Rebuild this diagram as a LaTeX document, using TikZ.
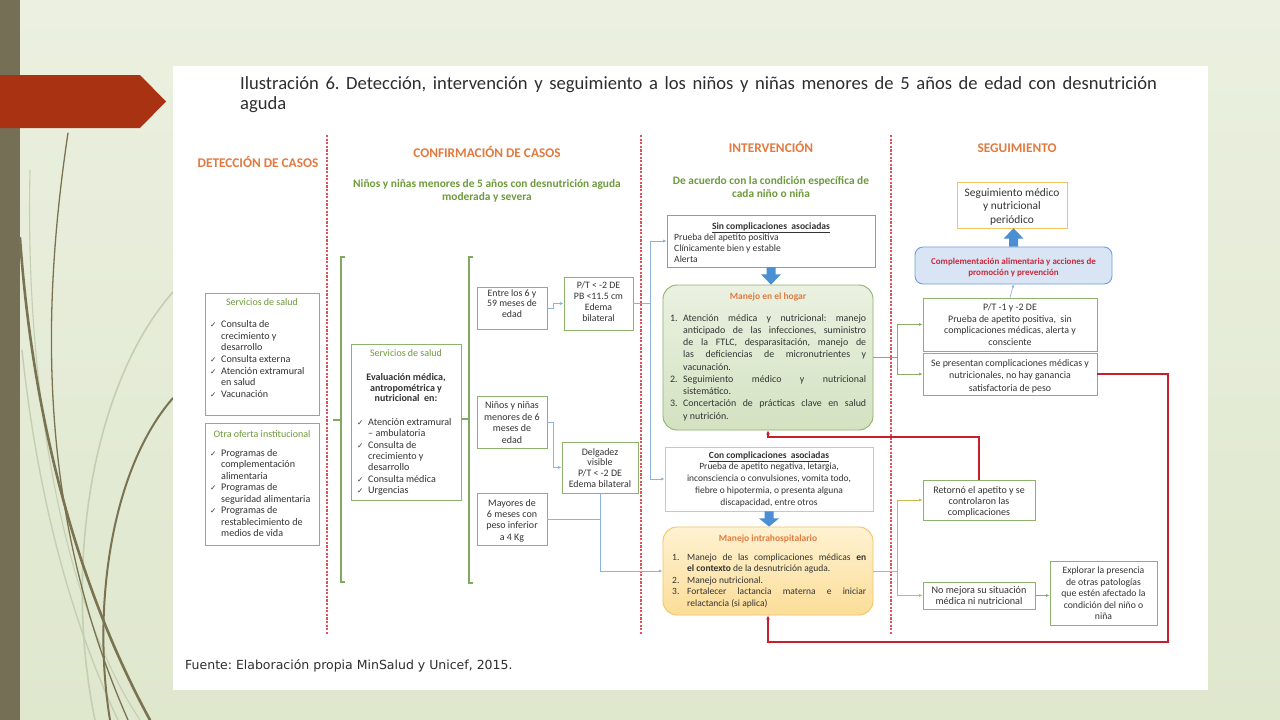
\documentclass[tikz,border=0pt]{standalone}
\usepackage{fontspec}
\setmainfont{Carlito}
\newfontfamily\symfont{DejaVu Sans}
\newfontfamily\footfont{DejaVu Sans}
\usetikzlibrary{arrows.meta,calc,fit}
\frenchspacing

\definecolor{bggreen}{HTML}{DFE7CD}
\definecolor{bglight}{HTML}{EBF0E0}
\definecolor{barbrown}{HTML}{756F56}
\definecolor{rust}{HTML}{A83212}
\definecolor{curvedark}{HTML}{7A7352}
\definecolor{curvepale}{HTML}{C6CEB2}
\definecolor{sepred}{HTML}{E3505C}
\definecolor{hdrorange}{HTML}{E27A3F}
\definecolor{subgreen}{HTML}{6E9A3C}
\definecolor{boxgreen}{HTML}{8DB26B}
\definecolor{brgreen}{HTML}{82A962}
\definecolor{boxyellow}{HTML}{F3C462}
\definecolor{connblue}{HTML}{8CB3E0}
\definecolor{blockblue}{HTML}{4A8ED3}
\definecolor{hogartop}{HTML}{EAF1E1}
\definecolor{hogarbot}{HTML}{D3E2C1}
\definecolor{intratop}{HTML}{FEF2D2}
\definecolor{intrabot}{HTML}{FCDD98}
\definecolor{compfill}{HTML}{D9E5F4}
\definecolor{compdraw}{HTML}{6F9FD6}
\definecolor{redline}{HTML}{C81E2E}
\definecolor{oliveline}{HTML}{C9B94E}
\definecolor{greenline}{HTML}{8AAE66}
\definecolor{txtgray}{HTML}{333333}
\definecolor{compred}{HTML}{C8283A}
\definecolor{titlegray}{HTML}{2E2E2E}

\newcommand\fsz[2]{\fontsize{#1}{#2}\selectfont}
\newcommand\boxfont{\fsz{10}{11.6}}
\newcommand\ck{\makebox[11pt][l]{\symfont\fontsize{7.5}{7.5}\selectfont ✓}}
\newcommand\jl[2]{\makebox[#1][s]{#2}}
\newcommand\ctext[1]{\begin{tabular}[t]{@{}c@{}}#1\end{tabular}}
\newcommand\ltext[1]{\begin{tabular}[t]{@{}l@{}}#1\end{tabular}}
\newcommand\cklist[1]{\begin{tabular}[t]{@{}l@{}l@{}}#1\end{tabular}}
\newcommand\downblock[2]{\fill[blockblue] ($(#1)+(-4.5,0)$) -- ($(#1)+(4.5,0)$) -- ($(#1)+(4.5,7)$) -- ($(#1)+(10,7)$) -- (#1 |- #2) -- ($(#1)+(-10,7)$) -- ($(#1)+(-4.5,7)$) -- cycle;}

\tikzset{
  txt/.style={inner sep=0pt, text=txtgray, font=\boxfont},
  gbox/.style={draw=boxgreen, line width=0.8pt, fill=white, inner sep=0pt},
  ybox/.style={draw=boxyellow, line width=0.8pt, fill=white, inner sep=0pt},
  hdr/.style={inner sep=0pt, text=hdrorange, font=\fsz{13.3}{15}\bfseries},
  subhdr/.style={inner sep=0pt, text=subgreen, font=\fsz{11.4}{13}\bfseries},
  sepline/.style={draw=sepred, line width=1.3pt, dash pattern=on 2.2pt off 1.4pt},
  bracket/.style={draw=brgreen, line width=1.3pt},
  bconn/.style={draw=connblue, line width=0.7pt},
  barr/.style={bconn, -{Latex[length=3.5pt,width=3pt]}},
  gconn/.style={draw=greenline, line width=0.7pt},
  garr/.style={gconn, -{Latex[length=3.5pt,width=3pt]}},
  oconn/.style={draw=oliveline, line width=0.7pt},
  oarr/.style={oconn, -{Latex[length=3.5pt,width=3pt]}},
  rarr/.style={draw=redline, line width=1.6pt, -{Latex[length=4pt,width=4pt]}},
  dcurve/.style={draw=curvedark, line cap=round},
  pcurve/.style={draw=curvepale, line cap=round},
}

\begin{document}
\begin{tikzpicture}[x=1pt,y=-1pt]
\useasboundingbox (0,0) rectangle (1280,720);
% slide background
\shade[top color=bglight, bottom color=bggreen] (0,0) rectangle (1280,720);
\fill[barbrown] (0,0) rectangle (20,720);
% decorative curves
\draw[pcurve, line width=1.6pt] (173,292) .. controls (95,380) and (62,560) .. (95,720);
\draw[pcurve, line width=1.4pt] (22,350) .. controls (40,520) and (80,640) .. (118,720);
\draw[pcurve, line width=1.1pt] (30,170) .. controls (25,380) and (60,600) .. (140,720);
\draw[dcurve, line width=1.3pt] (68,133) .. controls (40,320) and (40,520) .. (128,720);
\draw[dcurve, line width=2.6pt] (20,238) .. controls (35,450) and (90,610) .. (150,720);
\draw[dcurve, line width=2pt] (173,398) .. controls (110,470) and (92,610) .. (110,720);
\fill[rust] (0,75) -- (140,75) -- (166,101.5) -- (140,128) -- (0,128) -- cycle;
% white panel
\fill[white] (173,66) rectangle (1208,690);

% title
\node[anchor=base west, inner sep=0pt, text=titlegray, font=\fsz{18.6}{20}] (title1) at (240,89.5)
  {\makebox[917pt][s]{Ilustración 6. Detección, intervención y seguimiento a los niños y niñas menores de 5 años de edad con desnutrición}};
\node[anchor=base west, inner sep=0pt, text=titlegray, font=\fsz{18.6}{20}] (title2) at (240,109) {aguda};

% column separators
\draw[sepline] (327,135) -- (327,635);
\draw[sepline] (641,135) -- (641,635);
\draw[sepline] (891,135) -- (891,635);

% headers
\node[hdr, anchor=base] (hdet) at (258,167) {DETECCIÓN DE CASOS};
\node[hdr, anchor=base] (hconf) at (487,157) {CONFIRMACIÓN DE CASOS};
\node[hdr, anchor=base] (hint) at (771,152.5) {INTERVENCIÓN};
\node[hdr, anchor=base] (hseg) at (1017,152.5) {SEGUIMIENTO};
\node[subhdr, anchor=base] (sconf) at (487,187) {\ctext{Niños y niñas menores de 5 años con desnutrición aguda\\moderada y severa}};
\node[subhdr, anchor=base] (sint) at (771,184) {\ctext{De acuerdo con la condición específica de\\cada niño o niña}};

% ---------------- DETECCION ----------------
\node[gbox, fit={(205,293)(319,415)}] (detA) {};
\node[txt, anchor=base, text=subgreen] (detAh) at (262,305) {Servicios de salud};
\node[txt, anchor=base west, font=\fsz{10.1}{11.65}] (detAl) at (210,327.5)
  {\cklist{\ck&Consulta de\\&crecimiento y\\&desarrollo\\\ck&Consulta externa\\\ck&Atención extramural\\&en salud\\\ck&Vacunación}};
\node[gbox, fit={(205,423)(319,545)}] (detB) {};
\node[txt, anchor=base, text=subgreen] (detBh) at (262,437) {Otra oferta institucional};
\node[txt, anchor=base west, font=\fsz{10.1}{11.45}] (detBl) at (210,456.5)
  {\cklist{\ck&Programas de\\&complementación\\&alimentaria\\\ck&Programas de\\&seguridad alimentaria\\\ck&Programas de\\&restablecimiento de\\&medios de vida}};

% ---------------- CONFIRMACION ----------------
\coordinate (b1t) at (345,257);
\coordinate (b1b) at (345,582);
\coordinate (b1m) at (333,420);
\draw[bracket] (b1t) -- (341,257) -- (341,582) -- (b1b);
\draw[bracket] (b1m) -- (341,420);

\node[gbox, fit={(351,344)(461,500)}] (conf) {};
\node[txt, anchor=base, text=subgreen] (confh) at (406,356) {Servicios de salud};
\node[txt, anchor=base, font=\fsz{10}{10.7}\bfseries] (confb) at (406,380.5)
  {\ctext{Evaluación médica,\\antropométrica y\\nutricional\ \ en:}};
\node[txt, anchor=base west, font=\fsz{10.1}{11.3}] (confl) at (357,425.5)
  {\cklist{\ck&Atención extramural\\&– ambulatoria\\\ck&Consulta de\\&crecimiento y\\&desarrollo\\\ck&Consulta médica\\\ck&Urgencias}};

\coordinate (b2t) at (473,257);
\coordinate (b2b) at (473,583);
\draw[bracket] (b2t) -- (469,257) -- (469,583) -- (b2b);
\draw[bracket] (conf.east |- 0,419) -- (469,419);

\node[gbox, fit={(477,287)(547,329)}] (c1) {};
\node[txt, anchor=base, font=\fsz{9.8}{10.6}] (c1t) at (512,296) {\ctext{Entre los 6 y\\59 meses de\\edad}};
\node[gbox, fit={(477,396)(547,448)}] (c2) {};
\node[txt, anchor=base, font=\fsz{10}{11.6}] (c2t) at (512,408.5) {\ctext{Niños y niñas\\menores de 6\\meses de\\edad}};
\node[gbox, fit={(477,493)(547,545)}] (c3) {};
\node[txt, anchor=base, font=\fsz{10}{11.4}] (c3t) at (512,506) {\ctext{Mayores de\\6 meses con\\peso inferior\\a 4 Kg}};
\node[gbox, fit={(564,277)(633,330)}] (d1) {};
\node[txt, anchor=base, font=\fsz{9.8}{11.2}] (d1t) at (598.5,288) {\ctext{P/T < -2 DE\\PB <11.5 cm\\Edema\\bilateral}};
\node[gbox, fit={(562,442)(638,493)}] (d2) {};
\node[txt, anchor=base, font=\fsz{9.9}{10.8}] (d2t) at (600,455) {\ctext{Delgadez\\visible\\P/T < -2 DE\\Edema bilateral}};

% ---------------- INTERVENCION ----------------
\node[gbox, draw=boxgreen!80!gray, fit={(667,215)(875,267)}] (sin) {};
\node[txt, anchor=base, font=\fsz{9.6}{11}] (sinh) at (771,229) {\underline{\textbf{Sin complicaciones\ \ asociadas}}};
\node[txt, anchor=base west, font=\fsz{9.6}{10.8}] (sinl) at (674,240.5) {\ltext{Prueba del apetito positiva\\Clínicamente bien y estable\\Alerta}};

\node[draw=boxgreen, line width=0.9pt, rounded corners=14pt, top color=hogartop, bottom color=hogarbot, inner sep=0pt, fit={(663,285)(873,430)}] (hogar) {};
\node[txt, anchor=base, text=hdrorange, font=\fsz{9.5}{11}\bfseries] (hogarh) at (768,299) {Manejo en el hogar};
\node[txt, anchor=base west, font=\fsz{9.9}{12.25}] (hogarl) at (670,321)
  {\begin{tabular}[t]{@{}l@{}l@{}}\makebox[13pt][l]{1.}&\jl{183pt}{Atención médica y nutricional: manejo}\\
   &\jl{183pt}{anticipado de las infecciones, suministro}\\
   &\jl{183pt}{de la FTLC, desparasitación, manejo de}\\
   &\jl{183pt}{las deficiencias de micronutrientes y}\\
   &vacunación.\\
   2.&\jl{183pt}{Seguimiento médico y nutricional}\\
   &sistemático.\\
   3.&\jl{183pt}{Concertación de prácticas clave en salud}\\
   &y nutrición.\end{tabular}};

\node[ybox, fit={(665,447)(873,511)}] (con) {};
\node[txt, anchor=base, font=\fsz{9.5}{11.8}] (cont) at (769,458)
  {\ctext{\underline{\textbf{Con complicaciones\ \ asociadas}}\\Prueba de apetito negativa, letargia,\\inconsciencia o convulsiones, vomita todo,\\fiebre o hipotermia, o presenta alguna\\discapacidad, entre otros}};

\node[draw=boxyellow, line width=0.9pt, rounded corners=14pt, top color=intratop, bottom color=intrabot, inner sep=0pt, fit={(663,527)(873,615)}] (intra) {};
\node[txt, anchor=base, text=hdrorange, font=\fsz{9.5}{11}\bfseries] (intrah) at (768,541) {Manejo intrahospitalario};
\node[txt, anchor=base west, font=\fsz{9.5}{11.5}] (intral) at (672,560)
  {\begin{tabular}[t]{@{}l@{}l@{}}\makebox[15pt][l]{1.}&\jl{179pt}{Manejo de las complicaciones médicas \textbf{en}}\\
   &\textbf{el contexto} de la desnutrición aguda.\\
   2.&Manejo nutricional.\\
   3.&\jl{179pt}{Fortalecer lactancia materna e iniciar}\\
   &relactancia (si aplica)\end{tabular}};

\downblock{sin.south}{hogar.north}
\downblock{con.south}{intra.north}

% ---------------- SEGUIMIENTO ----------------
\node[ybox, fit={(957,182)(1067,228)}] (seg) {};
\node[txt, anchor=base, font=\fsz{11.4}{13.5}] (segt) at (1012,196) {\ctext{Seguimiento médico\\y nutricional\\periódico}};
\node[draw=compdraw, line width=0.9pt, rounded corners=8pt, fill=compfill, inner sep=0pt, fit={(915,247)(1112,284)}] (comp) {};
\node[txt, anchor=base, text=compred, font=\fsz{9}{11}\bfseries] (compt) at (1013.5,264.5) {\ctext{Complementación alimentaria y acciones de\\promoción y prevención}};
\fill[blockblue] ($(comp.north)+(-4.5,0)$) -- ($(comp.north)+(4.5,0)$) -- ($(comp.north)+(4.5,-8)$) -- ($(comp.north)+(10,-8)$) -- (comp.north |- seg.south) -- ($(comp.north)+(-10,-8)$) -- ($(comp.north)+(-4.5,-8)$) -- cycle;

\node[gbox, fit={(923,298)(1097,351)}] (pt) {};
\node[txt, anchor=base, font=\fsz{9.9}{11.7}] (ptt) at (1010,310.5) {\ctext{P/T -1 y -2 DE\\Prueba de apetito positiva,\ \ sin\\complicaciones médicas, alerta y\\consciente}};
\node[gbox, fit={(923,353)(1097,395)}] (sp) {};
\node[txt, anchor=base, font=\fsz{9.9}{12.3}] (spt) at (1010,366.5) {\ctext{Se presentan complicaciones médicas y\\nutricionales, no hay ganancia\\satisfactoria de peso}};
\node[gbox, fit={(923,480)(1035,520)}] (ret) {};
\node[txt, anchor=base, font=\fsz{10}{11}] (rett) at (979,493.5) {\ctext{Retornó el apetito y se\\controlaron las\\complicaciones}};
\node[gbox, fit={(923,582)(1035,609)}] (nom) {};
\node[txt, anchor=base, font=\fsz{10.2}{11}] (nomt) at (979,593.5) {\ctext{No mejora su situación\\médica ni nutricional}};
\node[gbox, fit={(1050,561)(1157,625)}] (exp) {};
\node[txt, anchor=base, font=\fsz{9.7}{11.5}] (expt) at (1103.5,573.5) {\ctext{Explorar la presencia\\de otras patologías\\que estén afectado la\\condición del niño o\\niña}};

% ---------------- CONNECTORS ----------------
\draw[barr] (c1.east) -- ++(6,0) |- (d1.west);
\draw[barr] (c2.east) -- ++(6,0) |- (d2.west);
\draw[bconn] (c3.east) -- (c3.east -| d2.south);
\draw[barr] (d2.south) |- (intra.west);
\draw[bconn] (d1.east) -- (650,303.5) coordinate (jb);
\draw[barr] (jb) |- (sin.west);
\draw[barr] (jb) |- (con.west);

\draw[gconn] (hogar.east) -- (897,357.5) coordinate (jg);
\draw[garr] (jg) |- (pt.west);
\draw[garr] (jg) |- (sp.west);
\draw[bconn, -{Latex[length=3pt,width=3pt]}] (pt.north) -- (comp.south);

\draw[oconn] (intra.east) -- (897,571) coordinate (jo);
\draw[oarr] (jo) |- (ret.west);
\draw[oarr] (jo) |- (nom.west);
\draw[garr] (nom.east) -- (nom.east -| exp.west);

\coordinate (rc1) at (1168,642);
\draw[rarr] (sp.east) -| (rc1) -| (intra.south);
\coordinate (rc2) at (768,437);
\draw[rarr] (ret.north) |- (rc2) -- (hogar.south);

% footer
\node[anchor=base west, inner sep=0pt, text=titlegray, font=\footfont\fsz{12.5}{14}] (foot) at (185,669.5) {Fuente: Elaboración propia MinSalud y Unicef, 2015.};
\end{tikzpicture}
\end{document}
